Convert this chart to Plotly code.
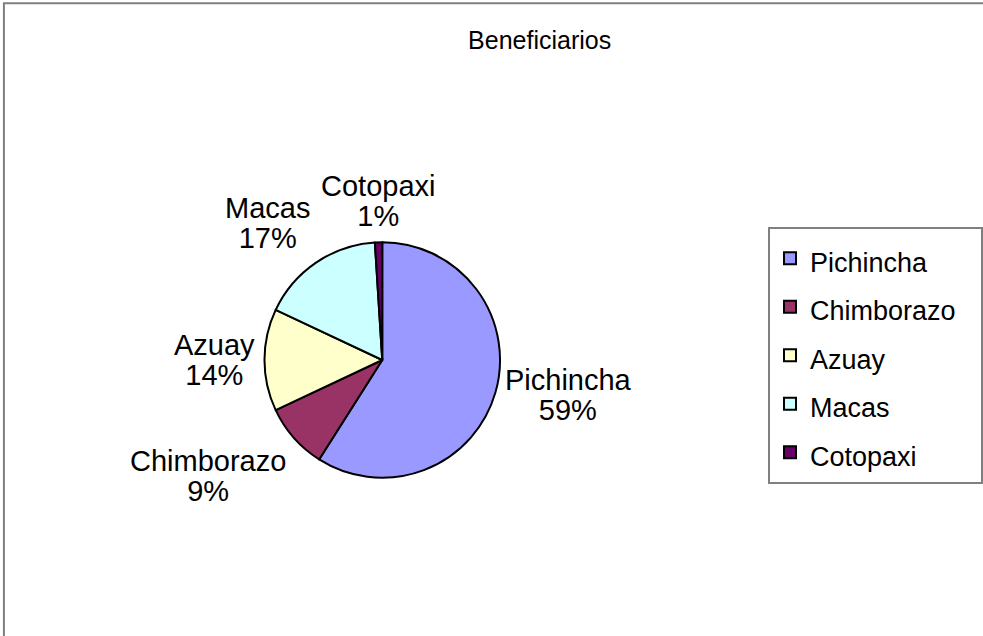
import math
import plotly.graph_objects as go

regiones = ['Pichincha', 'Chimborazo', 'Azuay', 'Macas', 'Cotopaxi']
porcentajes = [59, 9, 14, 17, 1]
colores = ['#9999FF', '#993366', '#FFFFCC', '#CCFFFF', '#660066']

fuente = 'Liberation Sans, Arial, sans-serif'
W, H = 983, 636
dom_x = [0.2696, 0.5097]
dom_y = [0.2485, 0.6195]

# etiquetas de leyenda con tamaño propio (la fuente de la leyenda fija el espaciado);
# los espacios duros finales ensanchan el cuadro de la leyenda
etiquetas = ["<span style='font-size:27px'>%s</span>\u00a0\u00a0" % r for r in regiones]

fig = go.Figure(
    data=[
        go.Pie(
            labels=etiquetas,
            values=porcentajes,
            customdata=regiones,
            sort=False,
            direction='clockwise',
            rotation=0,
            marker=dict(colors=colores, line=dict(color='black', width=2)),
            textinfo='none',
            hovertemplate='%{customdata}: %{value}<extra></extra>',
            domain=dict(x=dom_x, y=dom_y),
        )
    ]
)

# etiquetas exteriores al estilo Excel, a partir del ángulo medio de cada sector
cx = (dom_x[0] + dom_x[1]) / 2 * W
cy = (dom_y[0] + dom_y[1]) / 2 * H
radio = min((dom_x[1] - dom_x[0]) * W, (dom_y[1] - dom_y[0]) * H) / 2
total = sum(porcentajes)
acum = 0
for nombre, v in zip(regiones, porcentajes):
    medio = (acum + v / 2) / total * 2 * math.pi
    acum += v
    s, c = math.sin(medio), math.cos(medio)
    d = radio + 9
    xa = 'left' if s > 0.3 else ('right' if s < -0.3 else 'center')
    ya = 'bottom' if c > 0.3 else ('top' if c < -0.3 else 'middle')
    fig.add_annotation(
        x=(cx + d * s) / W, y=(cy + d * c) / H,
        xref='paper', yref='paper',
        xanchor=xa, yanchor=ya,
        text="<span style='font-size:29px'>%s</span><br><span style='font-size:29px'>%d%%</span>"
             % (nombre, round(v / total * 100)),
        showarrow=False, align='center', borderpad=0,
        font=dict(family=fuente, size=23, color='black'),
    )

fig.update_layout(
    width=W,
    height=H,
    margin=dict(l=0, r=0, t=0, b=0),
    paper_bgcolor='white',
    plot_bgcolor='white',
    font=dict(family=fuente, color='black'),
    title=dict(
        text='Beneficiarios',
        x=0.549, xanchor='center',
        y=0.937, yanchor='middle',
        font=dict(family=fuente, size=25, color='black'),
    ),
    legend=dict(
        x=0.783, xanchor='left',
        y=0.643, yanchor='top',
        bordercolor='#808080',
        borderwidth=2,
        bgcolor='white',
        font=dict(family=fuente, size=35, color='black'),
    ),
    shapes=[
        dict(type='rect', xref='paper', yref='paper',
             x0=0.004, x1=1.02, y0=-0.02, y1=0.995,
             line=dict(color='#808080', width=2), layer='below'),
    ],
)

# quitar el margen por defecto del body para que la figura quede en (0, 0)
fig.write_html("out.html", config={'displayModeBar': False},
               post_script="document.body.style.margin='0';")
